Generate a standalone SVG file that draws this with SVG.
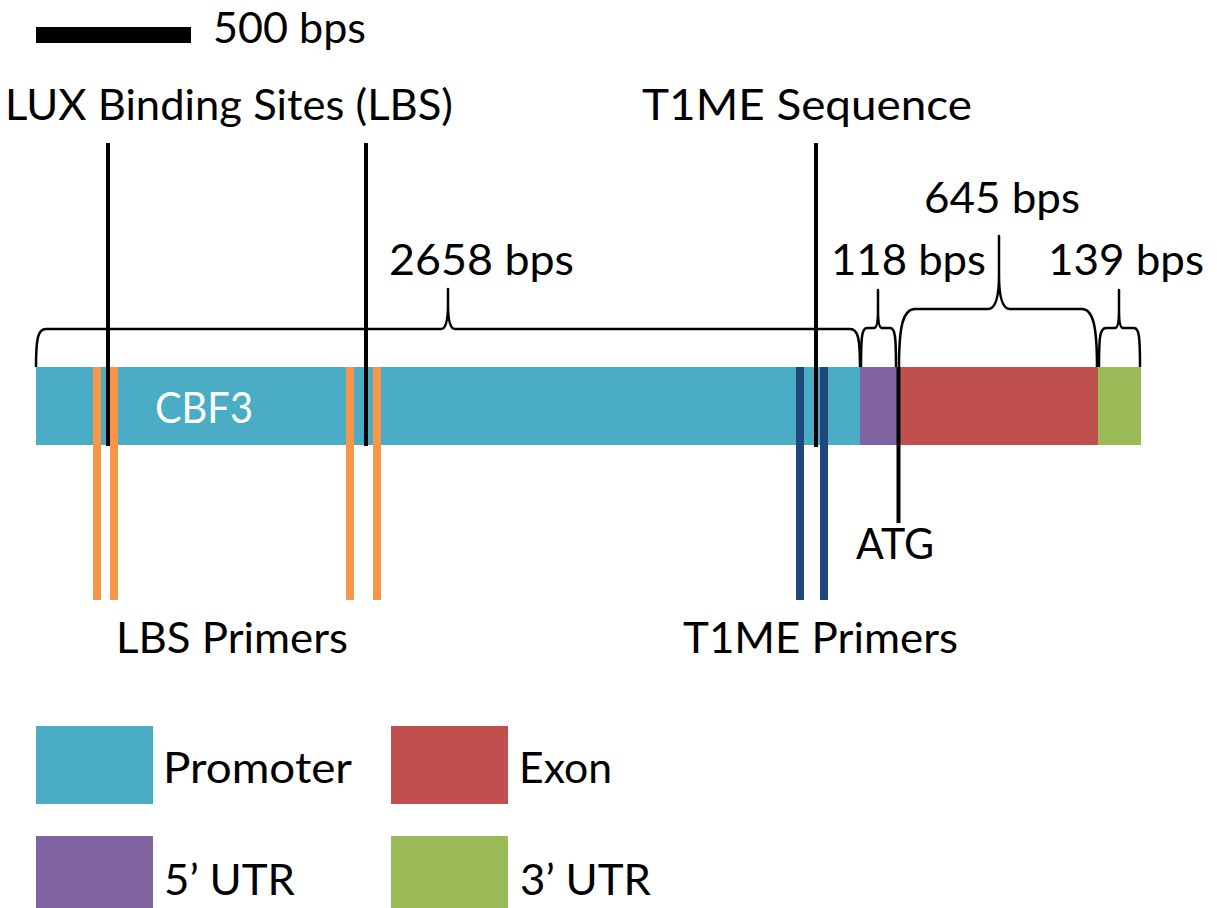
<svg xmlns="http://www.w3.org/2000/svg" width="1217" height="908" viewBox="0 0 1217 908">
  <style>
    text { font-family: Lato, "Open Sans", "Liberation Sans", sans-serif; font-size: 43px; fill: #000; }
    .white { fill: #fff; }
    .promoter { fill: #4BACC6; }
    .utr5 { fill: #8064A2; }
    .exon { fill: #C0504D; }
    .utr3 { fill: #9BBB59; }
    .lbs-primer { fill: #F79646; }
    .t1me-primer { fill: #1F497D; }
    .site { stroke: #000; stroke-width: 4; fill: none; }
    .brace { stroke: #000; stroke-width: 2.5; fill: none; stroke-linejoin: round; stroke-linecap: butt; }
  </style>

  <rect width="1217" height="908" fill="#fff"/>

  <!-- scale bar -->
  <g id="scale-bar">
    <rect x="36" y="27" width="155" height="16" fill="#000"/>
    <text x="213" y="43" textLength="153" lengthAdjust="spacingAndGlyphs">500 bps</text>
  </g>

  <!-- gene body: promoter, 5' UTR, exon, 3' UTR -->
  <g id="gene">
    <rect class="promoter" x="36" y="367" width="824" height="78"/>
    <rect class="utr5" x="860" y="367" width="37" height="78"/>
    <rect class="exon" x="897" y="367" width="201" height="78"/>
    <rect class="utr3" x="1098" y="367" width="43" height="78"/>
    <text class="white" x="155" y="423" textLength="98" lengthAdjust="spacingAndGlyphs">CBF3</text>
  </g>

  <!-- primer positions -->
  <g id="lbs-primers">
    <rect class="lbs-primer" x="93" y="367" width="8" height="233"/>
    <rect class="lbs-primer" x="110" y="367" width="8" height="233"/>
    <rect class="lbs-primer" x="346" y="367" width="8" height="233"/>
    <rect class="lbs-primer" x="373" y="367" width="8" height="233"/>
    <text x="116" y="653" textLength="232" lengthAdjust="spacingAndGlyphs">LBS Primers</text>
  </g>
  <g id="t1me-primers">
    <rect class="t1me-primer" x="796" y="367" width="8" height="233"/>
    <rect class="t1me-primer" x="820" y="367" width="8" height="233"/>
    <text x="683" y="653" textLength="275" lengthAdjust="spacingAndGlyphs">T1ME Primers</text>
  </g>

  <!-- site markers and length braces -->
  <g id="connectors">
    <line class="site" x1="108" y1="143" x2="108" y2="446"/>
    <line class="site" x1="366" y1="143" x2="366" y2="446"/>
    <line class="site" x1="816" y1="143" x2="816" y2="447"/>
    <line class="site" x1="898.5" y1="367" x2="898.5" y2="523"/>

    <!-- 2658 bps promoter brace -->
    <path class="brace" d="M36,367 C36,338 38,329 46,329 L441,329 C446,329 448,318 448,304 L448,289 L448,304 C448,318 450,329 455,329 L850,329 C858,329 860,338 860,367"/>
    <!-- 118 bps 5' UTR brace -->
    <path class="brace" d="M861,367 C861,336 862,328 867,328 L874,328 C877,328 878,320 878,310 L878,290 L878,310 C878,320 879,328 882,328 L890,328 C895,328 896,336 896,367"/>
    <!-- 645 bps exon brace -->
    <path class="brace" d="M899,367 C899,326 903,309 915,309 L988,309 C996,309 999,296 999,275 L999,236 L999,275 C999,296 1002,309 1010,309 L1082,309 C1093,309 1097,326 1097,367"/>
    <!-- 139 bps 3' UTR brace -->
    <path class="brace" d="M1099,367 C1099,336 1100,328 1106,328 L1115,328 C1118,328 1119,320 1119,310 L1119,290 L1119,310 C1119,320 1120,328 1123,328 L1134,328 C1139,328 1140,336 1140,367"/>
  </g>

  <!-- annotation labels -->
  <g id="labels">
    <text x="5" y="120" textLength="448" lengthAdjust="spacingAndGlyphs">LUX Binding Sites (LBS)</text>
    <text x="642" y="120" textLength="330" lengthAdjust="spacingAndGlyphs">T1ME Sequence</text>
    <text x="389" y="275" textLength="185" lengthAdjust="spacingAndGlyphs">2658 bps</text>
    <text x="924" y="213" textLength="156" lengthAdjust="spacingAndGlyphs">645 bps</text>
    <text x="831" y="275" textLength="155" lengthAdjust="spacingAndGlyphs">118 bps</text>
    <text x="1048" y="275" textLength="156" lengthAdjust="spacingAndGlyphs">139 bps</text>
    <text x="856" y="559" textLength="78" lengthAdjust="spacingAndGlyphs">ATG</text>
  </g>

  <!-- legend -->
  <g id="legend-promoter">
    <rect class="promoter" x="36" y="726" width="117" height="78"/>
    <text x="163" y="783" textLength="189" lengthAdjust="spacingAndGlyphs">Promoter</text>
  </g>
  <g id="legend-exon">
    <rect class="exon" x="391" y="726" width="117" height="78"/>
    <text x="519" y="783" textLength="93" lengthAdjust="spacingAndGlyphs">Exon</text>
  </g>
  <g id="legend-utr5">
    <rect class="utr5" x="36" y="836" width="117" height="72"/>
    <text x="164" y="895" textLength="131" lengthAdjust="spacingAndGlyphs">5’ UTR</text>
  </g>
  <g id="legend-utr3">
    <rect class="utr3" x="391" y="836" width="117" height="72"/>
    <text x="520" y="895" textLength="131" lengthAdjust="spacingAndGlyphs">3’ UTR</text>
  </g>
</svg>
